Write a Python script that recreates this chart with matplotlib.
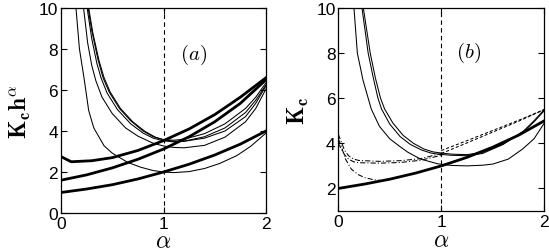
import numpy as np
import matplotlib
matplotlib.use("Agg")
import matplotlib.pyplot as plt

plt.rcParams['mathtext.fontset'] = 'cm'
plt.rcParams['font.family'] = ['Liberation Sans', 'DejaVu Sans']

# ---------------- panel (a) data ----------------
a_thick1_x = [0.0, 0.25, 0.5, 0.75, 1.0, 1.25, 1.5, 1.75, 2.0]
a_thick1_y = [1.0, 1.17, 1.38, 1.66, 2.0, 2.38, 2.83, 3.36, 4.0]

a_thick2_x = [0.0, 0.25, 0.5, 0.75, 1.0, 1.25, 1.5, 1.75, 2.0]
a_thick2_y = [1.6, 1.86, 2.2, 2.62, 3.12, 3.72, 4.45, 5.35, 6.5]

a_thick3_x = [0.0, 0.1, 0.3, 0.5, 0.75, 1.0, 1.25, 1.5, 1.75, 2.0]
a_thick3_y = [2.75, 2.5, 2.55, 2.7, 3.05, 3.53, 4.1, 4.8, 5.65, 6.6]

a_t1_x = [0.146, 0.18, 0.226, 0.27, 0.32, 0.42, 0.5, 0.65, 0.78, 0.9, 1.0, 1.1, 1.25, 1.4, 1.55, 1.715, 1.85, 2.0]
a_t1_y = [10.0, 8.0, 6.54, 5.0, 4.15, 3.28, 2.92, 2.47, 2.23, 2.07, 2.0, 1.97, 2.02, 2.17, 2.42, 2.8, 3.25, 3.9]

a_t2_x = [0.22, 0.26, 0.3, 0.34, 0.4, 0.5, 0.63, 0.75, 0.9, 1.0, 1.1, 1.2, 1.4, 1.6, 1.8, 1.9, 2.0]
a_t2_y = [10.0, 8.3, 7.2, 6.45, 5.65, 4.85, 4.15, 3.75, 3.4, 3.27, 3.2, 3.18, 3.3, 3.7, 4.45, 5.1, 6.05]

a_t3_x = [0.255, 0.3, 0.35, 0.39, 0.45, 0.55, 0.68, 0.8, 0.9, 1.0, 1.1, 1.2, 1.4, 1.6, 1.8, 1.9, 2.0]
a_t3_y = [10.0, 8.5, 7.3, 6.6, 5.85, 5.05, 4.35, 3.9, 3.65, 3.52, 3.47, 3.5, 3.72, 4.15, 4.9, 5.5, 6.25]

a_t4_x = [0.265, 0.3, 0.36, 0.41, 0.47, 0.57, 0.68, 0.8, 0.9, 1.0, 1.1, 1.2, 1.4, 1.6, 1.8, 1.9, 2.0]
a_t4_y = [10.0, 8.9, 7.5, 6.6, 5.9, 5.1, 4.5, 4.0, 3.72, 3.58, 3.55, 3.6, 3.87, 4.35, 5.1, 5.65, 6.35]

a_t5_x = [0.27, 0.31, 0.37, 0.42, 0.48, 0.58, 0.7, 0.82, 0.92, 1.0, 1.1, 1.2, 1.4, 1.6, 1.8, 1.9, 2.0]
a_t5_y = [10.0, 8.8, 7.45, 6.6, 5.9, 5.1, 4.45, 3.98, 3.7, 3.57, 3.5, 3.5, 3.65, 4.0, 4.7, 5.35, 6.2]

# ---------------- panel (b) data ----------------
b_thick_x = [0.0, 0.25, 0.5, 0.75, 1.0, 1.25, 1.5, 1.75, 2.0]
b_thick_y = [2.0, 2.19, 2.41, 2.68, 3.0, 3.38, 3.83, 4.36, 5.0]

b_r1_x = [0.152, 0.185, 0.24, 0.29, 0.32, 0.4, 0.5, 0.6, 0.677, 0.8, 0.968, 1.1, 1.25, 1.4, 1.5, 1.65, 1.79, 1.9, 2.0]
b_r1_y = [10.0, 8.0, 6.8, 6.0, 5.52, 4.75, 4.2, 3.85, 3.6, 3.3, 3.09, 3.02, 3.0, 3.03, 3.08, 3.3, 3.75, 4.2, 4.9]

b_r2_x = [0.23, 0.29, 0.34, 0.385, 0.42, 0.5, 0.6, 0.7, 0.81, 0.9, 0.97, 1.1, 1.25, 1.4, 1.6, 1.8, 1.9, 2.0]
b_r2_y = [10.0, 8.0, 6.9, 6.0, 5.52, 4.85, 4.3, 3.95, 3.7, 3.57, 3.52, 3.47, 3.45, 3.55, 3.95, 4.55, 5.0, 5.5]

b_r3_x = [0.243, 0.31, 0.36, 0.41, 0.45, 0.53, 0.63, 0.73, 0.83, 0.92, 1.0, 1.1, 1.25, 1.4, 1.6, 1.8, 1.9, 2.0]
b_r3_y = [10.0, 8.0, 6.9, 6.0, 5.52, 4.9, 4.35, 4.0, 3.75, 3.62, 3.57, 3.52, 3.5, 3.6, 3.97, 4.52, 4.95, 5.45]

b_dd1_x = [0.0, 0.03, 0.06, 0.1, 0.15, 0.2, 0.4, 0.6, 0.8, 1.0]
b_dd1_y = [4.4, 4.05, 3.7, 3.45, 3.3, 3.24, 3.2, 3.23, 3.32, 3.55]

b_dd2_x = [0.0, 0.03, 0.06, 0.1, 0.15, 0.2, 0.4, 0.6, 0.8, 1.0]
b_dd2_y = [4.0, 3.75, 3.5, 3.3, 3.18, 3.14, 3.12, 3.15, 3.25, 3.47]

b_dd3_x = [0.0, 0.03, 0.07, 0.126, 0.19, 0.256, 0.35, 0.42]
b_dd3_y = [4.2, 3.85, 3.3, 2.86, 2.62, 2.48, 2.38, 2.35]

b_da1_x = [1.0, 1.25, 1.5, 1.75, 2.0]
b_da1_y = [3.68, 4.12, 4.57, 5.02, 5.5]

b_da2_x = [1.0, 1.25, 1.5, 1.75, 2.0]
b_da2_y = [3.55, 4.02, 4.5, 4.98, 5.5]

x_ticks = [0, 1, 2]
a_yticks = [0, 2, 4, 6, 8, 10]
b_yticks = [2, 4, 6, 8, 10]

thin = 0.75
thick = 2.0

fig = plt.figure(figsize=(5.49, 2.53), dpi=100)
ax1 = fig.add_axes([61/549, 39/253, 205/549, 205/253])
ax2 = fig.add_axes([338.3/549, 41/253, 206/549, 203/253])

for ax in (ax1, ax2):
    ax.set_xlim(0, 2)
    ax.set_xticks(x_ticks)
    ax.axvline(1, color='k', ls=(0, (4, 3)), lw=0.8)
    ax.tick_params(direction='in', top=True, right=True, length=4, width=0.8,
                   labelsize=12.5, pad=2)
    for s in ax.spines.values():
        s.set_linewidth(0.9)
    ax.set_xlabel(r'$\alpha$', fontsize=17)
    ax.xaxis.label.set_va('center')

ax1.xaxis.set_label_coords(0.5, -0.135)
ax2.xaxis.set_label_coords(0.5, -0.145)

# panel (a)
ax1.set_ylim(0, 10)
ax1.set_yticks(a_yticks)
for xs, ys in [(a_t1_x, a_t1_y), (a_t2_x, a_t2_y), (a_t3_x, a_t3_y),
               (a_t4_x, a_t4_y), (a_t5_x, a_t5_y)]:
    ax1.plot(xs, ys, color='k', lw=thin)
for xs, ys in [(a_thick1_x, a_thick1_y), (a_thick2_x, a_thick2_y),
               (a_thick3_x, a_thick3_y)]:
    ax1.plot(xs, ys, color='k', lw=thick)
ax1.text(1.29, 7.76, r'$(a)$', fontsize=15, ha='center', va='center')
ax1.set_ylabel(r'$\mathbf{K_c h^{\alpha}}$', fontsize=17, labelpad=4)

# panel (b)
ax2.set_ylim(1, 10)
ax2.set_yticks(b_yticks)
for xs, ys in [(b_r1_x, b_r1_y), (b_r2_x, b_r2_y), (b_r3_x, b_r3_y)]:
    ax2.plot(xs, ys, color='k', lw=thin)
for xs, ys in [(b_dd1_x, b_dd1_y), (b_dd2_x, b_dd2_y), (b_dd3_x, b_dd3_y)]:
    ax2.plot(xs, ys, color='k', lw=thin, ls=(0, (5, 2, 1, 2)))
for xs, ys in [(b_da1_x, b_da1_y), (b_da2_x, b_da2_y)]:
    ax2.plot(xs, ys, color='k', lw=thin, ls=(0, (3, 2)))
ax2.plot(b_thick_x, b_thick_y, color='k', lw=thick)
ax2.text(1.26, 8.04, r'$(b)$', fontsize=15, ha='center', va='center')
ax2.set_ylabel(r'$\mathbf{K_c}$', fontsize=17, labelpad=4)

fig.savefig('out.png', dpi=100)
